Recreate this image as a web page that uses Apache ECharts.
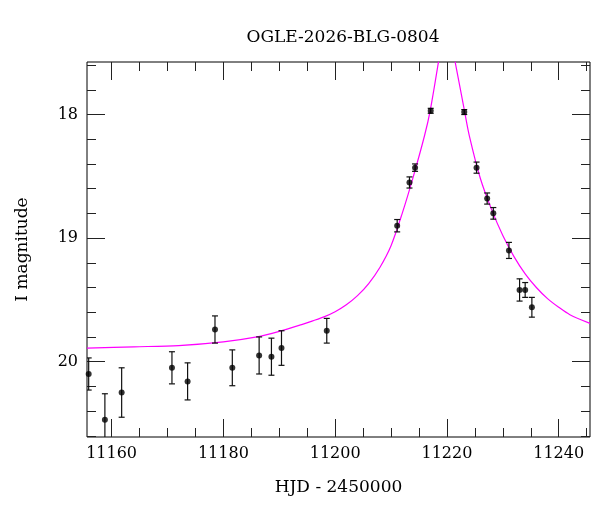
<!DOCTYPE html>
<html>
<head>
<meta charset="utf-8">
<script src="https://cdn.jsdelivr.net/npm/echarts@6/dist/echarts.min.js"></script>
<style>
  html, body { margin: 0; padding: 0; background: #fff; }
  #chart { width: 600px; height: 512px; }
</style>
</head>
<body>
<div id="chart"></div>
<script>
// photometry points (HJD - 2450000, I mag, 1-sigma error)
const hjd = [11155.9, 11158.8, 11161.8, 11170.8, 11173.6, 11178.5, 11181.6, 11186.4, 11188.6, 11190.4, 11198.5,
             11211.1, 11213.3, 11214.3, 11217.1, 11223.1, 11225.3, 11227.2, 11228.3, 11231.1, 11233.0, 11234.0, 11235.2];
const mag = [20.10, 20.47, 20.25, 20.05, 20.16, 19.74, 20.05, 19.95, 19.96, 19.89, 19.75,
             18.90, 18.55, 18.43, 17.97, 17.98, 18.43, 18.68, 18.80, 19.10, 19.42, 19.42, 19.56];
const err = [0.13, 0.21, 0.20, 0.13, 0.15, 0.11, 0.145, 0.15, 0.15, 0.14, 0.10,
             0.05, 0.045, 0.03, 0.02, 0.02, 0.045, 0.045, 0.047, 0.065, 0.09, 0.06, 0.08];

// model curve, rising + falling branch (peak runs off the top)
const modelT = [11155.6, 11164, 11172, 11180, 11186, 11190, 11194, 11196, 11198, 11200, 11202, 11204, 11206, 11208,
                11210, 11212, 11214, 11216, 11217, 11218.5,
                11220,
                11221.45, 11223.1, 11224, 11226, 11228, 11230, 11232, 11234, 11236, 11238, 11240, 11242, 11245.6];
const modelI = [19.89, 19.88, 19.87, 19.84, 19.80, 19.755, 19.70, 19.67, 19.638, 19.596, 19.54, 19.466, 19.368, 19.238,
                19.062, 18.80, 18.50, 18.17, 17.97, 17.57,
                '-',
                17.57, 17.96, 18.17, 18.52, 18.77, 18.98, 19.15, 19.29, 19.40, 19.49, 19.56, 19.62, 19.69];

// ticks
const xMajor = [11160, 11180, 11200, 11220, 11240];
const xMinor = [11165, 11170, 11175, 11185, 11190, 11195, 11205, 11210, 11215, 11225, 11230, 11235, 11245];
const yMajor = [18, 19, 20];
const yMinor = [17.6, 17.8, 18.2, 18.4, 18.6, 18.8, 19.2, 19.4, 19.6, 19.8, 20.2, 20.4, 20.6];

const X_MIN = 11155.6, X_MAX = 11245.6;
const Y_MIN = 17.575, Y_MAX = 20.61;
const FONT = 'DejaVu Serif';

var chart = echarts.init(document.getElementById('chart'));

function xAx(pos, ticks, len, labels) {
    return {
        type: 'value', position: pos, min: X_MIN, max: X_MAX,
        axisLine: { show: false },
        splitLine: { show: false },
        axisTick: { show: true, inside: true, length: len, customValues: ticks,
                    lineStyle: { color: '#222', width: 1 } },
        axisLabel: labels ? { show: true, customValues: ticks, margin: 9, color: '#000',
                              fontFamily: FONT, fontSize: 16, formatter: v => String(v) }
                          : { show: false },
        name: labels ? 'HJD - 2450000' : '',
        nameLocation: 'middle', nameGap: 42,
        nameTextStyle: { fontFamily: FONT, fontSize: 17, color: '#000' }
    };
}

function yAx(pos, ticks, len, labels) {
    return {
        type: 'value', position: pos, min: Y_MIN, max: Y_MAX, inverse: true,
        axisLine: { show: false },
        splitLine: { show: false },
        axisTick: { show: true, inside: true, length: len, customValues: ticks,
                    lineStyle: { color: '#222', width: 1 } },
        axisLabel: labels ? { show: true, customValues: ticks, margin: 9, color: '#000',
                              fontFamily: FONT, fontSize: 16, formatter: v => String(v) }
                          : { show: false },
        name: labels ? 'I magnitude' : '',
        nameLocation: 'middle', nameGap: 56, nameRotate: 90,
        nameTextStyle: { fontFamily: FONT, fontSize: 17, color: '#000' }
    };
}

const points = hjd.map((t, i) => [t, mag[i]]);
const bars = hjd.map((t, i) => [t, mag[i] - err[i], mag[i] + err[i]]);
const model = modelT.map((t, i) => [t, modelI[i]]);

option = {
    animation: false,
    backgroundColor: '#fff',
    title: {
        text: 'OGLE-2026-BLG-0804',
        left: 338, top: 24, textAlign: 'center',
        textStyle: { fontFamily: FONT, fontSize: 17, fontWeight: 'normal', color: '#000' }
    },
    grid: { left: 87, right: 10, top: 62, bottom: 75, show: true,
            borderColor: '#000', borderWidth: 1, backgroundColor: 'transparent' },
    xAxis: [
        xAx('bottom', xMajor, 18, true),
        xAx('bottom', xMinor, 9, false),
        xAx('top', xMajor, 18, false),
        xAx('top', xMinor, 9, false)
    ],
    yAxis: [
        yAx('left', yMajor, 18, true),
        yAx('left', yMinor, 9, false),
        yAx('right', yMajor, 18, false),
        yAx('right', yMinor, 9, false)
    ],
    series: [
        {
            type: 'line', data: model, showSymbol: false, smooth: 0.3,
            connectNulls: false, clip: true,
            lineStyle: { color: '#ff00ff', width: 1.2 }, z: 2
        },
        {
            type: 'custom', data: bars, clip: true, z: 3,
            renderItem: function (params, api) {
                const lo = api.coord([api.value(0), api.value(1)]);
                const hi = api.coord([api.value(0), api.value(2)]);
                const w = 3;
                const style = { stroke: '#111', lineWidth: 1.2 };
                return {
                    type: 'group',
                    children: [
                        { type: 'line', shape: { x1: lo[0], y1: lo[1], x2: hi[0], y2: hi[1] }, style: style },
                        { type: 'line', shape: { x1: lo[0] - w, y1: lo[1], x2: lo[0] + w, y2: lo[1] }, style: style },
                        { type: 'line', shape: { x1: hi[0] - w, y1: hi[1], x2: hi[0] + w, y2: hi[1] }, style: style }
                    ]
                };
            }
        },
        {
            type: 'scatter', data: points, symbol: 'circle', symbolSize: 6, clip: false,
            itemStyle: { color: '#000' }, z: 4
        }
    ]
};

option && chart.setOption(option);
</script>
</body>
</html>
